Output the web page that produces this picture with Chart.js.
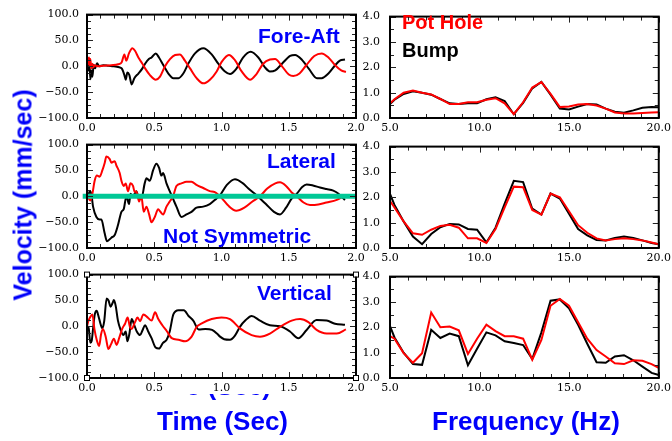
<!DOCTYPE html>
<html><head><meta charset="utf-8">
<script src="https://cdn.jsdelivr.net/npm/chart.js@4.4.1/dist/chart.umd.min.js"></script>
<style>
html,body{margin:0;padding:0;background:#fff;width:672px;height:441px;overflow:hidden;position:relative}
canvas{position:absolute}
.t{position:absolute;font-family:'Liberation Sans',Arial,sans-serif;font-weight:bold;line-height:1;white-space:nowrap;color:#0000FA}
.clip{position:absolute;overflow:hidden}
</style></head><body>
<div class="clip" style="left:186px;top:394px;width:84px;height:8px"><div class="t" style="left:-46px;top:-21px;font-size:26px">Time (Sec)</div></div>
<div class="t" style="left:258px;top:25px;font-size:21px">Fore-Aft</div>
<div class="t" style="left:267px;top:150px;font-size:21px">Lateral</div>
<div class="t" style="left:163px;top:225px;font-size:21px">Not Symmetric</div>
<div class="t" style="left:257px;top:282px;font-size:21px">Vertical</div>
<div class="t" style="left:402px;top:12px;font-size:20px;color:#FF0000">Pot Hole</div>
<div class="t" style="left:402px;top:40px;font-size:20px;color:#000">Bump</div>
<div class="t" style="left:157px;top:408px;font-size:26px">Time (Sec)</div>
<div class="t" style="left:432px;top:408px;font-size:26px">Frequency (Hz)</div>
<div class="t" style="left:23px;top:195px;font-size:25px;transform:translate(-50%,-50%) rotate(-90deg)">Velocity (mm/sec)</div>
<script>
// ---------- Time-domain data (seconds, mm/sec) ----------
const faBumpT = [0,0.010,0.018,0.025,0.032,0.040,0.050,0.060,0.075,0.090,0.120,0.160,0.200,0.240,0.258,0.278,0.288,0.300,0.315,0.332,0.352,0.382,0.412,0.432,0.460,0.480,0.511,0.535,0.568,0.605,0.642,0.680,0.716,0.753,0.803,0.865,0.927,0.976,1.026,1.063,1.110,1.160,1.217,1.274,1.323,1.360,1.400,1.450,1.510,1.547,1.600,1.650,1.710,1.745,1.795,1.845,1.880,1.918];
const faBumpV = [0,-8,6,-25,-8,-20,3,-4,6,0,2,1,0,-2,-4,-17,-26,-12,-17,-35,-23,-14,-4,5,14,17,25,17,2,-14,-23,-23,-14,5,25,35,23,5,-10,-15,-5,17,28,17,-2,-10,-8,5,20,22,12,-5,-23,-23,-14,2,11,13];
const faPotT = [0,0.008,0.015,0.020,0.025,0.032,0.040,0.047,0.055,0.080,0.120,0.180,0.233,0.258,0.278,0.292,0.312,0.337,0.357,0.382,0.412,0.432,0.468,0.511,0.543,0.580,0.617,0.655,0.690,0.728,0.766,0.815,0.865,0.914,0.964,1.000,1.055,1.100,1.150,1.212,1.260,1.310,1.360,1.398,1.450,1.500,1.534,1.580,1.630,1.690,1.745,1.795,1.845,1.890,1.925];
const faPotV = [0,8,17,2,14,-4,5,-2,2,0,1,2,4,8,23,11,25,35,30,17,5,-4,-17,-26,-20,0,14,22,23,11,-4,-23,-33,-26,-10,8,22,12,-10,-26,-15,5,13,14,0,-16,-19,-14,2,20,25,17,2,-8,-11];

const latBumpT = [0,0.007,0.020,0.032,0.045,0.070,0.094,0.107,0.130,0.149,0.181,0.206,0.231,0.256,0.273,0.293,0.313,0.323,0.342,0.367,0.387,0.404,0.429,0.442,0.467,0.491,0.516,0.536,0.553,0.566,0.591,0.615,0.640,0.665,0.702,0.739,0.777,0.814,0.864,0.913,0.960,0.989,1.040,1.100,1.160,1.200,1.260,1.330,1.390,1.435,1.480,1.520,1.560,1.600,1.633,1.680,1.732,1.780,1.831,1.870,1.900,1.918];
const latBumpV = [0,0,10,5,-20,-40,-45,-45,-70,-87,-80,-75,-55,-30,-25,0,-15,5,0,10,-5,-5,25,35,30,50,63,55,40,45,25,10,-5,-20,-40,-35,-30,-22,-20,-15,-5,2,22,33,25,15,2,-15,-30,-35,-22,-5,5,18,23,21,17,14,11,5,-3,-7];
const latPotT = [0,0.007,0.015,0.025,0.040,0.057,0.074,0.094,0.114,0.132,0.144,0.169,0.181,0.206,0.218,0.243,0.256,0.273,0.288,0.305,0.323,0.342,0.355,0.367,0.387,0.404,0.422,0.442,0.462,0.479,0.504,0.529,0.546,0.566,0.591,0.615,0.640,0.665,0.702,0.739,0.777,0.814,0.864,0.913,0.950,1.000,1.050,1.110,1.170,1.230,1.286,1.340,1.400,1.435,1.480,1.520,1.560,1.610,1.658,1.720,1.780,1.857,1.918];
const latPotV = [0,0,-5,-8,5,30,40,38,50,65,77,72,65,68,60,45,30,20,25,10,25,20,8,10,-10,0,-30,-20,-35,-50,-40,-25,-30,-35,-20,-10,0,20,25,28,28,22,16,10,8,-3,-18,-28,-22,-10,0,15,25,27,20,8,0,-12,-17,-16,-12,-7,2];

const vertBumpT = [0,0.012,0.025,0.035,0.045,0.058,0.072,0.085,0.100,0.114,0.128,0.146,0.160,0.175,0.190,0.200,0.213,0.230,0.250,0.270,0.288,0.300,0.315,0.332,0.352,0.370,0.394,0.412,0.431,0.455,0.480,0.510,0.535,0.565,0.592,0.615,0.642,0.680,0.720,0.755,0.790,0.830,0.880,0.930,0.970,0.989,1.020,1.063,1.100,1.137,1.180,1.224,1.286,1.360,1.435,1.509,1.571,1.633,1.707,1.782,1.844,1.918];
const vertBumpV = [0,-3,-32,-28,-5,23,30,20,5,-4,10,54,50,38,45,51,40,11,-7,-17,-10,-29,-15,14,2,-10,-17,-8,2,-10,-23,-41,-43,-32,-26,-10,23,31,31,20,11,-6,-5,-7,-15,-20,-25,-26,-18,-1,12,20,11,2,0,-10,-23,-7,12,11,5,3];
const vertPotT = [0,0.010,0.022,0.040,0.055,0.072,0.090,0.105,0.118,0.139,0.159,0.178,0.200,0.220,0.240,0.263,0.283,0.302,0.318,0.332,0.357,0.375,0.395,0.419,0.455,0.480,0.506,0.530,0.560,0.595,0.630,0.680,0.729,0.778,0.815,0.850,0.927,1.000,1.063,1.137,1.224,1.286,1.360,1.435,1.522,1.584,1.646,1.707,1.782,1.857,1.925];
const vertPotV = [0,10,17,23,-5,-26,-38,-15,-5,-20,-44,-35,-24,-36,-22,-4,5,17,0,-5,8,17,10,23,16,11,27,14,2,-10,-23,-26,-29,-20,-1,5,14,17,14,-4,-17,-20,-14,-1,11,14,8,-7,-14,-14,-6];

// ---------- Frequency-domain data (Hz, amplitude) ----------
const freqHz = [5.0,5.25,5.76,6.28,6.79,7.30,7.81,8.33,8.84,9.35,9.86,10.38,10.89,11.40,11.91,12.43,12.94,13.45,13.96,14.48,14.99,15.50,16.01,16.53,17.04,17.55,18.06,18.58,19.09,19.60,20.0];
const faBumpSpec = [0.55,0.72,0.95,1.05,1.0,0.92,0.75,0.58,0.55,0.58,0.58,0.74,0.82,0.67,0.15,0.6,1.17,1.42,0.92,0.37,0.34,0.45,0.55,0.53,0.37,0.25,0.21,0.3,0.4,0.43,0.42];
const faPotSpec = [0.58,0.74,1.0,1.08,1.0,0.93,0.75,0.55,0.55,0.62,0.62,0.72,0.78,0.58,0.15,0.62,1.2,1.42,0.95,0.43,0.45,0.53,0.55,0.49,0.37,0.22,0.18,0.18,0.2,0.22,0.23];
const latBumpSpec = [2.13,1.7,1.05,0.45,0.15,0.55,0.82,0.95,0.93,0.75,0.72,0.22,0.8,1.75,2.65,2.6,1.55,1.32,2.15,1.95,1.35,0.75,0.5,0.32,0.3,0.4,0.45,0.4,0.3,0.2,0.15];
const latPotSpec = [1.85,1.6,1.05,0.58,0.52,0.72,0.87,0.92,0.8,0.38,0.38,0.2,0.75,1.6,2.42,2.4,1.5,1.32,2.15,2.0,1.45,0.9,0.6,0.38,0.3,0.35,0.38,0.35,0.3,0.22,0.15];
const vertBumpSpec = [2.05,1.6,1.0,0.55,0.52,1.9,1.58,1.75,1.65,0.5,1.15,1.8,1.68,1.45,1.38,1.3,0.75,1.8,3.05,3.1,2.75,2.1,1.35,0.62,0.6,0.85,0.9,0.7,0.45,0.2,0.12];
const vertPotSpec = [1.65,1.55,0.98,0.6,0.98,2.58,2.0,2.03,1.88,0.95,1.55,2.1,1.85,1.65,1.65,1.55,0.72,1.5,2.85,3.12,2.85,2.2,1.55,1.1,0.85,0.58,0.55,0.7,0.68,0.55,0.4];

// symmetry reference line (lateral)
const symLineT = [-0.032, 2.003];
const symLineV = [0, 0];

const pts = (xs, ys) => xs.map((x, i) => ({x, y: ys[i]}));
const tickFont = {family: "'DejaVu Serif', serif", size: 11};
const fmt = v => (v < 0 ? '\u2212' + Math.abs(v).toFixed(1) : Number(v).toFixed(1));

const framePlugin = {
  id: 'frame',
  afterDatasetsDraw(chart, args, o) {
    const {ctx, chartArea: a, scales: {x, y}} = chart;
    ctx.save();
    ctx.strokeStyle = '#222';
    ctx.lineWidth = 1;
    const isMajor = (v, m) => Math.abs(v / m - Math.round(v / m)) < 1e-6;
    ctx.beginPath();
    const nx = Math.round((x.max - x.min) / o.xMinor);
    for (let i = 0; i <= nx; i++) {
      const v = x.min + i * o.xMinor;
      const px = Math.round(x.getPixelForValue(v)) + 0.5;
      const len = isMajor(v, o.xMajor) ? 6 : 4;
      ctx.moveTo(px, a.bottom); ctx.lineTo(px, a.bottom - len);
      ctx.moveTo(px, a.top); ctx.lineTo(px, a.top + len);
    }
    const ny = Math.round((y.max - y.min) / o.yMinor);
    for (let i = 0; i <= ny; i++) {
      const v = y.min + i * o.yMinor;
      const py = Math.round(y.getPixelForValue(v)) + 0.5;
      const len = isMajor(v, o.yMajor) ? 6 : 4;
      ctx.moveTo(a.left, py); ctx.lineTo(a.left + len, py);
      ctx.moveTo(a.right, py); ctx.lineTo(a.right - len, py);
    }
    ctx.stroke();
    ctx.strokeStyle = '#000';
    ctx.lineWidth = 2;
    ctx.strokeRect(a.left, a.top, a.right - a.left, a.bottom - a.top);
    if (o.corners) {
      ctx.lineWidth = 1;
      [[a.left, a.top], [a.right, a.top], [a.left, a.bottom], [a.right, a.bottom]].forEach(([cx, cy]) => {
        ctx.fillStyle = '#fff';
        ctx.fillRect(cx - 2, cy - 2, 4, 4);
        ctx.strokeRect(cx - 2.5, cy - 2.5, 5, 5);
      });
    }
    ctx.restore();
  }
};

function makeCanvas(left, top, w, h) {
  const c = document.createElement('canvas');
  c.width = w; c.height = h;
  c.style.left = left + 'px'; c.style.top = top + 'px';
  c.style.width = w + 'px'; c.style.height = h + 'px';
  document.body.insertBefore(c, document.body.firstChild);
  return c;
}

function lineDs(data, color, order, smooth) {
  return {data, borderColor: color, borderWidth: 2, pointRadius: 0, order,
    cubicInterpolationMode: smooth ? 'monotone' : 'default', tension: 0, fill: false};
}

function timeChart(top, bumpT, bumpV, potT, potV, extra, corners) {
  const c = makeCanvas(0, top, 370, 140);
  const ds = [lineDs(pts(potT, potV), '#FF0000', 1, true), lineDs(pts(bumpT, bumpV), '#000000', 2, true)];
  if (extra) ds.push(extra);
  new Chart(c, {
    type: 'line',
    data: {datasets: ds},
    options: {
      responsive: false, animation: false, events: [],
      layout: {padding: {top: 10, right: 14, left: 0, bottom: 0}},
      plugins: {legend: {display: false}, tooltip: {enabled: false},
        frame: {xMinor: 0.1, xMajor: 0.5, yMinor: 12.5, yMajor: 50, corners}},
      scales: {
        x: {type: 'linear', min: 0, max: 2,
          ticks: {stepSize: 0.5, callback: fmt, padding: 4, maxRotation: 0, autoSkip: false, color: '#000', font: tickFont},
          grid: {display: false, drawTicks: false}, border: {display: false},
          afterFit: s => { s.height = 22; }},
        y: {type: 'linear', min: -100, max: 100,
          ticks: {stepSize: 50, callback: fmt, padding: 8, color: '#000', font: tickFont},
          grid: {display: false, drawTicks: false}, border: {display: false},
          afterFit: s => { s.width = 87; }}
      }
    },
    plugins: [framePlugin]
  });
}

function freqChart(top, bumpS, potS) {
  const c = makeCanvas(355, top, 320, 140);
  new Chart(c, {
    type: 'line',
    data: {datasets: [lineDs(pts(freqHz, potS), '#FF0000', 1, false), lineDs(pts(freqHz, bumpS), '#000000', 2, false)]},
    options: {
      responsive: false, animation: false, events: [],
      layout: {padding: {top: 10, right: 15, left: 0, bottom: 0}},
      plugins: {legend: {display: false}, tooltip: {enabled: false},
        frame: {xMinor: 1, xMajor: 5, yMinor: 0.5, yMajor: 1}},
      scales: {
        x: {type: 'linear', min: 5, max: 20,
          ticks: {stepSize: 5, callback: fmt, padding: 4, maxRotation: 0, autoSkip: false, color: '#000', font: tickFont},
          grid: {display: false, drawTicks: false}, border: {display: false},
          afterFit: s => { s.height = 22; }},
        y: {type: 'linear', min: 0, max: 4,
          ticks: {stepSize: 1, callback: fmt, padding: 10, color: '#000', font: tickFont},
          grid: {display: false, drawTicks: false}, border: {display: false},
          afterFit: s => { s.width = 35; }}
      }
    },
    plugins: [framePlugin]
  });
}

const symLine = {data: pts(symLineT, symLineV), borderColor: '#00C896', borderWidth: 5,
  pointRadius: 0, order: 0, clip: false, tension: 0};

freqChart(260, vertBumpSpec, vertPotSpec);
freqChart(130, latBumpSpec, latPotSpec);
freqChart(0, faBumpSpec, faPotSpec);
timeChart(260, vertBumpT, vertBumpV, vertPotT, vertPotV, null, true);
timeChart(130, latBumpT, latBumpV, latPotT, latPotV, symLine, false);
timeChart(0, faBumpT, faBumpV, faPotT, faPotV, null, false);
</script>
</body></html>
